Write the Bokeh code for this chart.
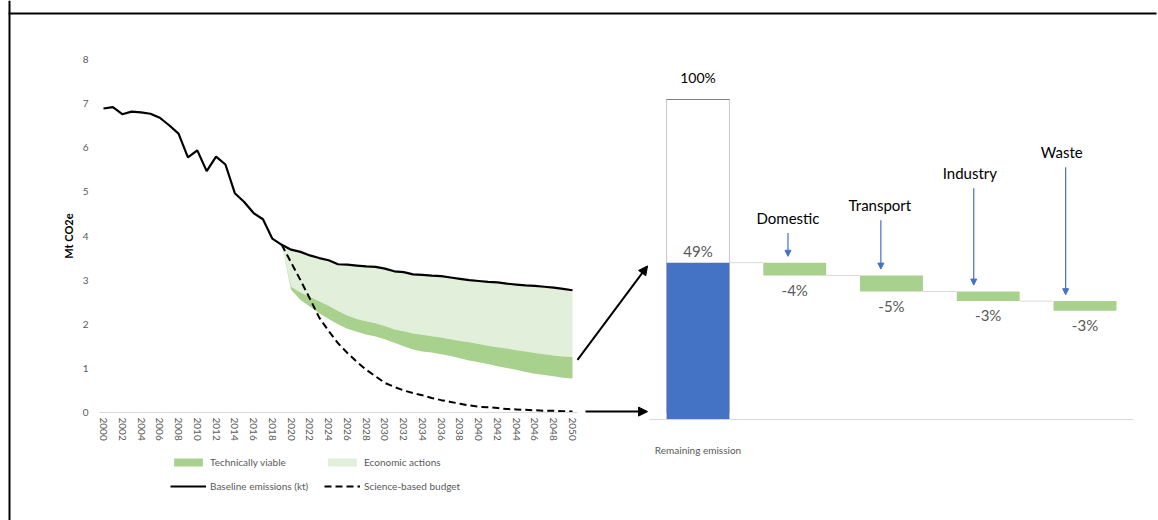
from bokeh.plotting import figure
from bokeh.models import (ColumnDataSource, Range1d, FixedTicker, Legend, LegendItem,
                          Arrow, NormalHead, LinearAxis)
from bokeh.core.properties import value
from bokeh.embed import file_html
from bokeh.resources import INLINE

# ---------------- data ----------------
years = list(range(2000, 2051))
baseline = [6.89, 6.92, 6.76, 6.82, 6.80, 6.77, 6.68, 6.51, 6.32, 5.78,
            5.94, 5.47, 5.80, 5.62, 4.97, 4.77, 4.52, 4.38, 3.94, 3.80,
            3.69, 3.64, 3.56, 3.50, 3.45, 3.36, 3.35, 3.33, 3.31, 3.30,
            3.26, 3.20, 3.18, 3.13, 3.12, 3.10, 3.09, 3.06, 3.03, 3.00,
            2.98, 2.96, 2.95, 2.92, 2.90, 2.88, 2.87, 2.85, 2.83, 2.80,
            2.77]
proj_years = list(range(2019, 2051))
tech_upper = [3.80, 2.85, 2.72, 2.62, 2.52, 2.42, 2.30, 2.20, 2.12, 2.07,
              2.02, 1.96, 1.88, 1.84, 1.79, 1.76, 1.73, 1.70, 1.66, 1.62,
              1.59, 1.55, 1.51, 1.48, 1.45, 1.41, 1.38, 1.35, 1.32, 1.29,
              1.27, 1.26]
tech_lower = [3.80, 2.78, 2.55, 2.40, 2.25, 2.12, 2.00, 1.90, 1.83, 1.77,
              1.72, 1.66, 1.58, 1.50, 1.43, 1.38, 1.36, 1.32, 1.28, 1.23,
              1.18, 1.14, 1.10, 1.05, 1.01, 0.97, 0.92, 0.88, 0.85, 0.82,
              0.79, 0.77]
science_budget = [3.80, 3.40, 3.00, 2.58, 2.15, 1.85, 1.57, 1.35, 1.15, 0.97,
                  0.82, 0.67, 0.58, 0.50, 0.44, 0.39, 0.33, 0.28, 0.24, 0.20,
                  0.16, 0.13, 0.12, 0.10, 0.08, 0.07, 0.06, 0.05, 0.04, 0.04,
                  0.03, 0.02]
y_ticks = [0, 1, 2, 3, 4, 5, 6, 7, 8]
x_ticks = list(range(2000, 2051, 2))
y_axis_title = "Mt CO2e"
legend_labels = ["Technically viable", "Economic actions",
                 "Baseline emissions (kt)", "Science-based budget"]

wf_steps = ["Remaining emission", "Domestic", "Transport", "Industry", "Waste"]
wf_total = 100
wf_remaining = 49
wf_changes = [-4, -5, -3, -3]

# ---------------- layout / style ----------------
FONT = "Lato"
GREY = "#595959"
DARK_GREEN = "#a9d18e"
LIGHT_GREEN = "#e2efda"
BLUE = "#4472c4"

PAGE_W, PAGE_H = 1158, 520
YR_PX0, PX_PER_YEAR = 103, 9.38        # page x of first year, px per year
MT_PX0, PX_PER_MT = 412, 44.125        # page y of 0 Mt, px per Mt
CAT_PX0, PX_PER_CAT = 697.5, 96.75     # page x of first waterfall bar
PCT_PX0, PX_PER_PCT = 419, 3.2         # page y of 0 %
BW = 0.65

def l_px(yr): return YR_PX0 + (yr - years[0]) * PX_PER_YEAR
def l_py(v): return MT_PX0 - v * PX_PER_MT
def r_x(px): return (px - CAT_PX0) / PX_PER_CAT
def r_y(py): return (PCT_PX0 - py) / PX_PER_PCT

p = figure(width=PAGE_W, height=PAGE_H, x_range=Range1d(0, PAGE_W),
           y_range=Range1d(PAGE_H, 0), output_backend="svg", toolbar_location=None,
           min_border=0, x_axis_location=None, y_axis_location=None,
           outline_line_color=None, background_fill_color="white")
p.grid.visible = False
p.xgrid.grid_line_color = None
p.ygrid.grid_line_color = None
p.extra_x_ranges = {
    "yr": Range1d(years[0] - YR_PX0 / PX_PER_YEAR,
                  years[0] + (PAGE_W - YR_PX0) / PX_PER_YEAR),
    "cat": Range1d(-CAT_PX0 / PX_PER_CAT, (PAGE_W - CAT_PX0) / PX_PER_CAT)}
p.extra_y_ranges = {
    "mt": Range1d(-(PAGE_H - MT_PX0) / PX_PER_MT, MT_PX0 / PX_PER_MT),
    "pct": Range1d(-(PAGE_H - PCT_PX0) / PX_PER_PCT, PCT_PX0 / PX_PER_PCT)}

# page frame lines (document table border)
p.segment(x0=[9, 8], y0=[0, 13], x1=[9, 1156], y1=[PAGE_H, 13],
          line_color="black", line_width=2)

# ---------------- left chart ----------------
LR = dict(x_range_name="yr", y_range_name="mt")
base_proj = [baseline[years.index(y)] for y in proj_years]
r_econ = p.varea(x=proj_years, y1=tech_upper, y2=base_proj, fill_color=LIGHT_GREEN, **LR)
r_tech = p.varea(x=proj_years, y1=tech_lower, y2=tech_upper, fill_color=DARK_GREEN, **LR)
r_base = p.line(years, baseline, line_color="black", line_width=2.2, **LR)
r_sci = p.line(proj_years, science_budget, line_color="black", line_width=2,
               line_dash="7 4", **LR)

xa = LinearAxis(fixed_location=0, ticker=FixedTicker(ticks=x_ticks),
                bounds=(years[0] - 0.4, years[-1] + 0.5), **LR)
xa.major_label_orientation = "vertical"
xa.axis_line_color = "#d9d9d9"
xa.major_tick_line_color = None
xa.minor_tick_line_color = None
xa.major_tick_out = 0
xa.major_tick_in = 0
xa.major_label_standoff = 5
xa.major_label_text_font = FONT
xa.major_label_text_font_size = "10px"
xa.major_label_text_color = GREY
p.add_layout(xa, "below")

ya = LinearAxis(fixed_location=years[0] - 7 / PX_PER_YEAR,
                ticker=FixedTicker(ticks=y_ticks),
                bounds=(y_ticks[0], y_ticks[-1]), **LR)
ya.axis_line_color = None
ya.major_tick_line_color = None
ya.minor_tick_line_color = None
ya.major_tick_out = 0
ya.major_tick_in = 0
ya.major_label_standoff = 8
ya.major_label_text_font = FONT
ya.major_label_text_font_size = "10px"
ya.major_label_text_color = GREY
ya.axis_label = y_axis_title
ya.axis_label_text_font = FONT
ya.axis_label_text_font_size = "11px"
ya.axis_label_text_font_style = "bold"
ya.axis_label_text_color = "black"
ya.axis_label_standoff = 5
p.add_layout(ya, "left")

legend = Legend(items=[LegendItem(label=legend_labels[0], renderers=[r_tech]),
                       LegendItem(label=legend_labels[1], renderers=[r_econ]),
                       LegendItem(label=legend_labels[2], renderers=[r_base]),
                       LegendItem(label=legend_labels[3], renderers=[r_sci])],
                orientation="horizontal", ncols=2,
                location=(170, PAGE_H - 452 - 44),
                label_text_font=FONT, label_text_font_size="10px",
                label_text_color=GREY, glyph_width=36, glyph_height=10,
                label_height=20, label_width=110, label_standoff=4, spacing=4,
                padding=0, margin=0, border_line_color=None,
                background_fill_alpha=0)
p.add_layout(legend, "center")

# ---------------- right waterfall ----------------
RR = dict(x_range_name="cat", y_range_name="pct")
xs = list(range(len(wf_steps)))
tops, bottoms, level = [], [], wf_remaining
for c in wf_changes:
    tops.append(level)
    bottoms.append(level + c)
    level += c

p.vbar(x=[xs[0]], top=[wf_total], width=BW, fill_color="white", line_color=None, **RR)
p.vbar(x=[xs[0]], top=[wf_remaining], width=BW, fill_color=BLUE, line_color=None, **RR)
p.vbar(x=xs[1:], top=tops, bottom=bottoms, width=BW, fill_color=DARK_GREEN,
       line_color=None, **RR)
# outline of the 100% box
p.segment(x0=[xs[0] - BW / 2], y0=[wf_total], x1=[xs[0] + BW / 2], y1=[wf_total],
          line_color="#7f7f7f", line_width=1, **RR)
p.segment(x0=[xs[0] - BW / 2, xs[0] + BW / 2], y0=[wf_total, wf_total],
          x1=[xs[0] - BW / 2, xs[0] + BW / 2], y1=[2, 2],
          line_color="#8c8c8c", line_width=1, line_dash="1 1", **RR)
# connectors
levels = [wf_remaining] + bottoms[:-1]
p.segment(x0=[x + BW / 2 for x in xs[:-1]], y0=levels,
          x1=[x + 1 - BW / 2 for x in xs[:-1]], y1=levels,
          line_color="#d9d9d9", line_width=1, **RR)

# value labels
p.text(x=[xs[0]], y=[wf_total], text=[f"{wf_total}%"], text_align="center",
       text_baseline="middle", y_offset=-22, text_font=value(FONT),
       text_font_size="14px", text_color="black", **RR)
p.text(x=[xs[0]], y=[wf_remaining], text=[f"{wf_remaining}%"], text_align="center",
       text_baseline="bottom", y_offset=-3, text_font=value(FONT),
       text_font_size="15px", text_color=GREY, **RR)
p.text(x=xs[1:], y=bottoms, text=[f"{c}%" for c in wf_changes], text_align="center",
       text_baseline="top", y_offset=5, text_font=value(FONT),
       text_font_size="15px", text_color=GREY, **RR)

# sector names and blue arrows
name_pct = [63, 67, 77, 83.5]
name_dx = [-0.07, -0.12, -0.19, -0.24]
arrow_dx = [-0.07, -0.11, -0.15, -0.20]
p.text(x=[x + d for x, d in zip(xs[1:], name_dx)], y=name_pct, text=wf_steps[1:],
       text_align="center", text_baseline="middle", text_font=value(FONT),
       text_font_size="15px", text_color="black", **RR)
asrc = ColumnDataSource(dict(x=[x + d for x, d in zip(xs[1:], arrow_dx)],
                             y0=[q - 4.7 for q in name_pct],
                             y1=[t + 2 for t in tops]))
p.add_layout(Arrow(x_start="x", y_start="y0", x_end="x", y_end="y1", source=asrc,
                   line_color=BLUE, line_width=1.2,
                   end=NormalHead(size=6, fill_color=BLUE, line_color=BLUE), **RR))

# x axis of the waterfall
rxa = LinearAxis(fixed_location=0, ticker=FixedTicker(ticks=[xs[0]]),
                 bounds=(xs[0] - 0.5, xs[-1] + 0.5), **RR)
rxa.major_label_overrides = {xs[0]: wf_steps[0]}
rxa.axis_line_color = "#d9d9d9"
rxa.major_tick_line_color = None
rxa.minor_tick_line_color = None
rxa.major_tick_out = 0
rxa.major_tick_in = 0
rxa.major_label_standoff = 24
rxa.major_label_text_font = FONT
rxa.major_label_text_font_size = "10px"
rxa.major_label_text_color = GREY
p.add_layout(rxa, "below")

# black arrows linking the two charts
tip_x = r_x(CAT_PX0 - BW / 2 * PX_PER_CAT - 19)
a1_x = r_x(l_px(proj_years[-1]) + 5)
a1_y = r_y(l_py(tech_upper[-1]) + 3)
a2_x = r_x(l_px(proj_years[-1]) + 13)
a2_y = r_y(l_py(science_budget[-1]))
p.add_layout(Arrow(x_start=a1_x, y_start=a1_y, x_end=tip_x, y_end=wf_remaining - 1,
                   line_color="black", line_width=2,
                   end=NormalHead(size=9, fill_color="black", line_color="black"), **RR))
p.add_layout(Arrow(x_start=a2_x, y_start=a2_y, x_end=tip_x, y_end=a2_y,
                   line_color="black", line_width=2,
                   end=NormalHead(size=9, fill_color="black", line_color="black"), **RR))

open("out.html", "w").write(file_html(p, INLINE))
